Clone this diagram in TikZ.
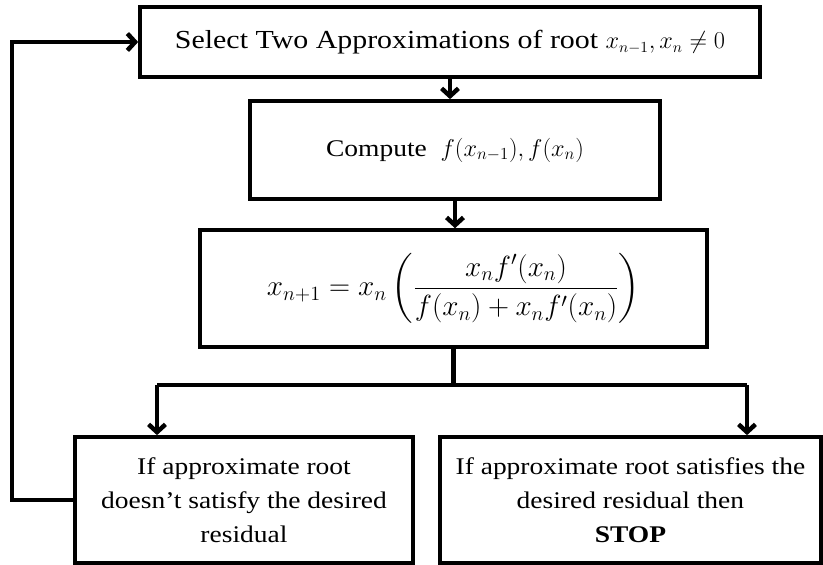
\documentclass[tikz,border=0pt]{standalone}
\usepackage{amsmath}
\usepackage{fontspec}
\setmainfont[FakeStretch=1.15]{Liberation Serif}
\usetikzlibrary{arrows.meta,positioning,calc}

\begin{document}
\begin{tikzpicture}[
        box/.style={draw, line width=2.6pt, align=center, inner sep=0pt, font=\fontsize{17}{24}\selectfont},
        wire/.style={line width=3.2pt},
        arr/.style={wire, -{Straight Barb[length=5.5pt,width=12pt]}}]
        \useasboundingbox (0,0) rectangle (20.575,14.125);
        % boxes
        \node[box, minimum width=15.5cm, minimum height=1.75cm, font=\fontsize{18.5}{24}\selectfont] (select) at (11.25,13.075) {\raisebox{2pt}{Select Two Approximations of root {\fontsize{16}{20}\selectfont$x_{n-1},x_n \neq 0$}}};
        \node[box, minimum width=10.25cm, minimum height=2.45cm] (compute) at (11.375,10.375) {Compute \ $f(x_{n-1}),f(x_n)$};
        \node[box, minimum width=12.675cm, minimum height=2.925cm, font=\fontsize{20}{26}\selectfont] (calc) at (11.34,6.91) {$\displaystyle x_{n+1} = x_n\left(\frac{x_n f'(x_n)}{f(x_n)+x_n f'(x_n)}\right)$};
        \node[box, minimum width=8.45cm, minimum height=3.15cm] (fail) at (6.1,1.625) {If approximate root\\doesn’t satisfy the desired\\residual};
        \node[box, minimum width=9.525cm, minimum height=3.15cm] (stop) at (15.76,1.625) {If approximate root satisfies the\\desired residual then\\\textbf{STOP}};
        % branch points
        \coordinate (jl) at (3.925,4.5);
        \coordinate (jr) at (18.675,4.5);
        % connectors
        \draw[arr] (select.south) -- (select.south |- compute.north);
        \draw[arr] (compute.south) -- (compute.south |- calc.north);
        \draw[wire] (calc.south) -- (calc.south |- jl);
        \draw[wire] (jl) -- (jr);
        \draw[arr] (jl) -- (jl |- fail.north);
        \draw[arr] (jr) -- (jr |- stop.north);
        \draw[arr] (fail.west) -- ++(-1.525,0) |- (select.west);
    \end{tikzpicture}
\end{document}
